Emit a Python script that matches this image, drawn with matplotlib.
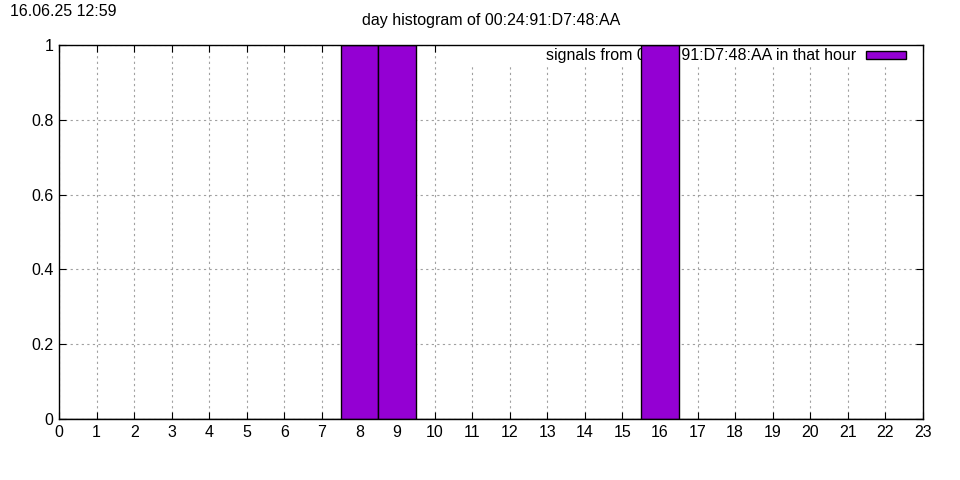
import matplotlib
matplotlib.use('Agg')
import matplotlib.pyplot as plt
from matplotlib.patches import Rectangle

hours = list(range(24))
counts = [0, 0, 0, 0, 0, 0, 0, 0, 1, 1, 0, 0, 0, 0, 0, 0, 1, 0, 0, 0, 0, 0, 0, 0]
yticks = [0, 0.2, 0.4, 0.6, 0.8, 1]
ytick_labels = ['0', '0.2', '0.4', '0.6', '0.8', '1']
mac = '00:24:91:D7:48:AA'
stamp = '16.06.25 12:59'

plt.rcParams['font.family'] = ['Liberation Sans', 'DejaVu Sans']
fs = 11.5

fig = plt.figure(figsize=(9.6, 4.8), dpi=100)
ax = fig.add_axes([59/960, 1 - 419/480, (923 - 59)/960, (419 - 45)/480])

ax.bar(hours, counts, width=1.0, color='#9400d3', edgecolor='black',
       linewidth=1, zorder=3, label='signals from ' + mac + ' in that hour')

ax.set_xlim(0, 23)
ax.set_ylim(0, 1)
ax.set_xticks(hours)
ax.set_yticks(yticks)
ax.set_yticklabels(ytick_labels)
ax.tick_params(direction='in', top=True, right=True, length=5, labelsize=fs, pad=4)
ax.grid(True, color='#a0a0a0', linestyle=(0, (2, 3)), linewidth=0.8, zorder=0)
ax.set_axisbelow(True)
for s in ax.spines.values():
    s.set_linewidth(1)
    s.set_zorder(4)

# white key box behind the legend (grid hidden there, bars drawn on top)
ax.add_patch(Rectangle((0.4525, 0.9465), 0.5475, 0.0535, transform=ax.transAxes,
                       facecolor='white', edgecolor='none', zorder=1))

leg = ax.legend(loc='center right', bbox_to_anchor=(0.980, 0.9706),
                markerfirst=False, fontsize=fs, frameon=False,
                handlelength=2.5, handleheight=0.37,
                borderpad=0, borderaxespad=0, handletextpad=0.62)
leg.set_zorder(2)

fig.text((59 + 923)/2/960, 1 - 21/480, 'day histogram of ' + mac,
         ha='center', va='center', fontsize=fs)
fig.text(10/960, 1 - 12/480, stamp, ha='left', va='center', fontsize=fs)

fig.savefig('out.png', dpi=100)
